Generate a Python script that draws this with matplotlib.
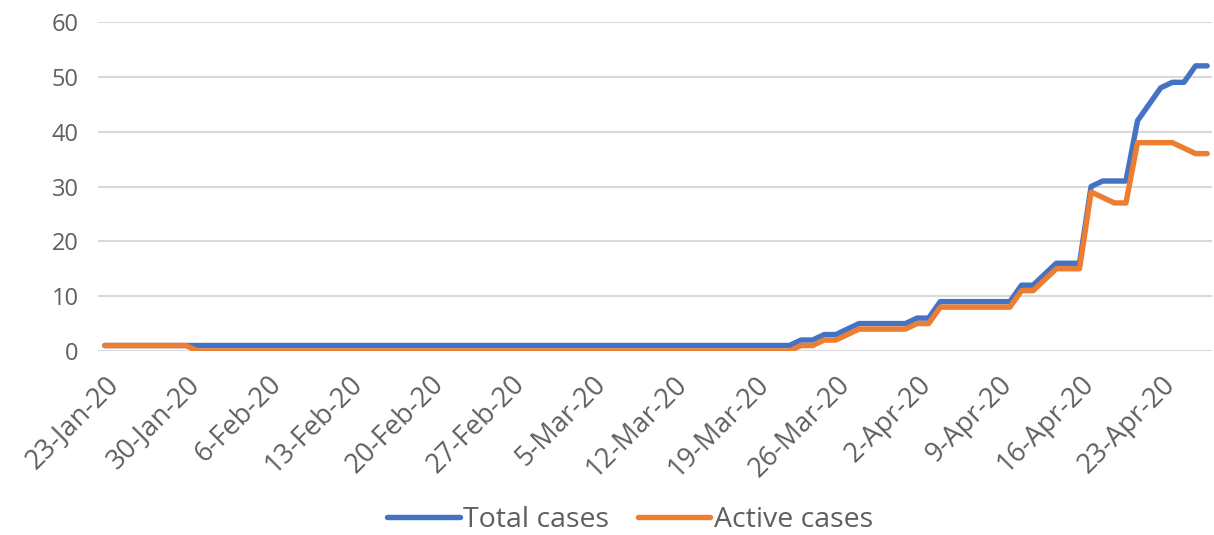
import matplotlib
matplotlib.use("Agg")
import matplotlib.pyplot as plt
import matplotlib.transforms as mtransforms
import numpy as np
import pandas as pd

start_date = "2020-01-23"
end_date = "2020-04-27"

total_cases = (
    [1] * 60 +                      # 23-Jan .. 22-Mar
    [2, 2, 3, 3, 4, 5, 5, 5, 5, 5,  # 23-Mar .. 1-Apr
     6, 6, 9, 9, 9, 9, 9, 9, 9,     # 2-Apr .. 10-Apr
     12, 12, 14, 16, 16, 16,        # 11-Apr .. 16-Apr
     30, 31, 31, 31, 42, 45, 48, 49, 49, 52, 52]  # 17-Apr .. 27-Apr
)
active_cases = (
    [1] * 8 + [0] * 52 +
    [1, 1, 2, 2, 3, 4, 4, 4, 4, 4,
     5, 5, 8, 8, 8, 8, 8, 8, 8,
     11, 11, 13, 15, 15, 15,
     29, 28, 27, 27, 38, 38, 38, 38, 37, 36, 36]
)
series_names = ["Total cases", "Active cases"]
series_colors = ["#4472C4", "#ED7D31"]
y_ticks = [0, 10, 20, 30, 40, 50, 60]

dates = pd.date_range(start_date, end_date, freq="D")
tick_dates = pd.date_range(start_date, end_date, freq="7D")
tick_labels = [f"{d.day}-{d.strftime('%b-%y')}" for d in tick_dates]

plt.rcParams['font.family'] = ['Open Sans', 'DejaVu Sans']
text_color = "#5F5F5F"
grid_color = "#D9D9D9"

fig = plt.figure(figsize=(12.14, 5.35), dpi=100)
ax = fig.add_axes([98 / 1214, 1 - 351 / 535, (1212 - 98) / 1214, (351 - 22) / 535])

ax.plot(dates, total_cases, color=series_colors[0], lw=3.9, solid_joinstyle='round',
        solid_capstyle='round', label=series_names[0], zorder=3)
ax.plot(dates, active_cases, color=series_colors[1], lw=3.9, solid_joinstyle='round',
        solid_capstyle='round', label=series_names[1], zorder=4)

ax.set_ylim(0, 60)
ax.set_yticks(y_ticks)
ax.set_xlim(dates[0] - pd.Timedelta(hours=14), dates[-1] + pd.Timedelta(hours=10))
ax.set_xticks(tick_dates)
ax.set_xticklabels(tick_labels, rotation=45, ha='right', va='top', rotation_mode='anchor',
                   fontsize=19.5)
offset = mtransforms.ScaledTranslation(-11 / 100, -4 / 100, fig.dpi_scale_trans)
for lbl in ax.get_xticklabels():
    lbl.set_transform(lbl.get_transform() + offset)

ax.yaxis.grid(True, color=grid_color, lw=1.5)
ax.set_axisbelow(True)
for s in ax.spines.values():
    s.set_visible(False)
ax.tick_params(axis='both', length=0, labelcolor=text_color)
ax.tick_params(axis='y', labelsize=17, pad=14)
ax.tick_params(axis='x', pad=14)

leg = fig.legend(loc='center', bbox_to_anchor=(630 / 1214, 1 - 520 / 535), ncol=2,
                 frameon=False, fontsize=20.5, handlelength=2.55, handletextpad=0.12,
                 columnspacing=1.0, labelcolor=text_color)
for line in leg.get_lines():
    line.set_linewidth(3.9)
    line.set_solid_capstyle('round')

fig.savefig("out.png", dpi=100)
